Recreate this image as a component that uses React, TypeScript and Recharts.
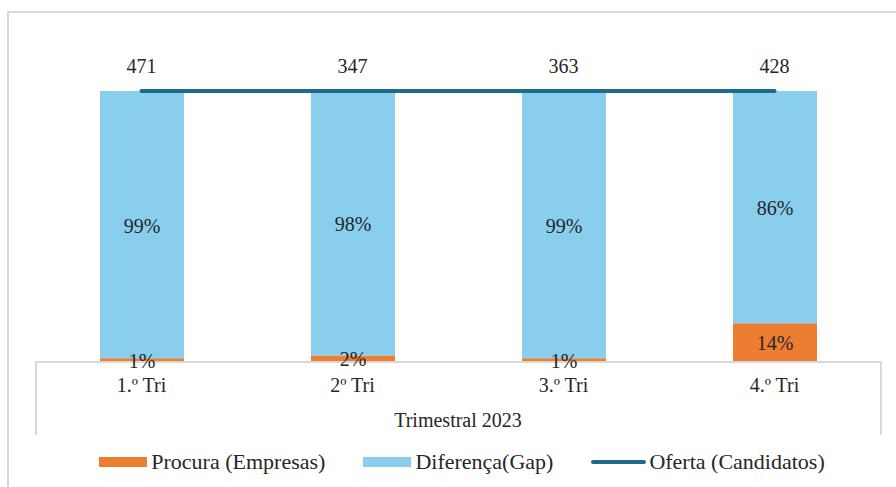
import React from "react"
import { ComposedChart, Bar, Line, XAxis, YAxis, LabelList } from "recharts"

const trimestres = ["1.º Tri", "2º Tri", "3.º Tri", "4.º Tri"]
const procuraPct = [1, 2, 1, 14]
const gapPct = [99, 98, 99, 86]
const oferta = [471, 347, 363, 428]

const ORANGE = "#ED7D31"
const SKY = "#89CEEC"
const NAVY = "#1D6A8B"
const GRID = "#d9d9d9"
const FONT = "Liberation Serif"
const FS = 20

const data = trimestres.map((t, i) => ({
  trimestre: t,
  procura: procuraPct[i],
  gap: gapPct[i],
  // oferta is the full 100% base of each quarter
  ofertaShare: procuraPct[i] + gapPct[i],
  oferta: oferta[i],
}))

const legendItems = [
  { label: "Procura (Empresas)", color: ORANGE, kind: "bar" },
  { label: "Diferença(Gap)", color: SKY, kind: "bar" },
  { label: "Oferta (Candidatos)", color: NAVY, kind: "line" },
]

function ChartLegend() {
  return (
    <div style={{ position: "absolute", left: 0, top: 449, width: 896, display: "flex", justifyContent: "center", alignItems: "center", gap: 38, fontFamily: FONT, fontSize: 22, color: "#262626", paddingLeft: 28, boxSizing: "border-box" }}>
      {legendItems.map((it) => (
        <div key={it.label} style={{ display: "flex", alignItems: "center" }}>
          {it.kind === "bar" ? (
            <span style={{ width: 48, height: 10, background: it.color, marginRight: 4 }} />
          ) : (
            <span style={{ width: 55, height: 4, borderRadius: 2, background: it.color, marginRight: 3 }} />
          )}
          <span>{it.label}</span>
        </div>
      ))}
    </div>
  )
}

function CategoryTick({ x, y, payload }: any) {
  return (
    <text x={x} y={y + 31} textAnchor="middle" fill="#262626" fontFamily={FONT} fontSize={FS}>
      {payload.value}
    </text>
  )
}

function countLabel(props: any) {
  const { x, y, value } = props
  return (
    <text x={x} y={y - 18} textAnchor="middle" fill="#262626" fontFamily={FONT} fontSize={FS}>
      {value}
    </text>
  )
}

function pctLabel(props: any) {
  const { x, y, width, height, value } = props
  return (
    <text x={x + width / 2} y={y + height / 2 + 8} textAnchor="middle" fill="#262626" fontFamily={FONT} fontSize={FS}>
      {`${value}%`}
    </text>
  )
}

export default function App() {
  return (
    <div style={{ position: "absolute", left: 0, top: 0, width: 896, height: 487, background: "#fff", overflow: "hidden", fontFamily: FONT }}>
      <div style={{ position: "absolute", left: 7, top: 11, width: 900, height: 490, borderLeft: `2px solid ${GRID}`, borderTop: `2px solid ${GRID}` }} />
      <div style={{ position: "absolute", left: 35, top: 361, width: 843, height: 72, border: `2px solid ${GRID}`, borderBottom: "none" }} />
      <ComposedChart
        width={896}
        height={487}
        data={data}
        margin={{ top: 91, right: 16, bottom: 54, left: 36 }}
        barCategoryGap={0}
        style={{ position: "absolute", left: 0, top: 0 }}
      >
        <XAxis
          dataKey="trimestre"
          height={72}
          axisLine={false}
          tickLine={false}
          tickSize={0}
          tickMargin={0}
          tick={<CategoryTick />}
          interval={0}
          label={{ value: "Trimestral 2023", position: "insideBottom", offset: 6, fill: "#262626", fontFamily: FONT, fontSize: FS }}
        />
        <YAxis hide domain={[0, 100]} />
        <Bar dataKey="procura" stackId="s" fill={ORANGE} barSize={84} isAnimationActive={false}>
          <LabelList dataKey="procura" content={pctLabel} />
        </Bar>
        <Bar dataKey="gap" stackId="s" fill={SKY} barSize={84} isAnimationActive={false}>
          <LabelList dataKey="gap" content={pctLabel} />
        </Bar>
        <Line
          dataKey="ofertaShare"
          stroke={NAVY}
          strokeWidth={4}
          strokeLinecap="round"
          dot={false}
          isAnimationActive={false}
        >
          <LabelList dataKey="oferta" content={countLabel} />
        </Line>
      </ComposedChart>
      <ChartLegend />
    </div>
  )
}
